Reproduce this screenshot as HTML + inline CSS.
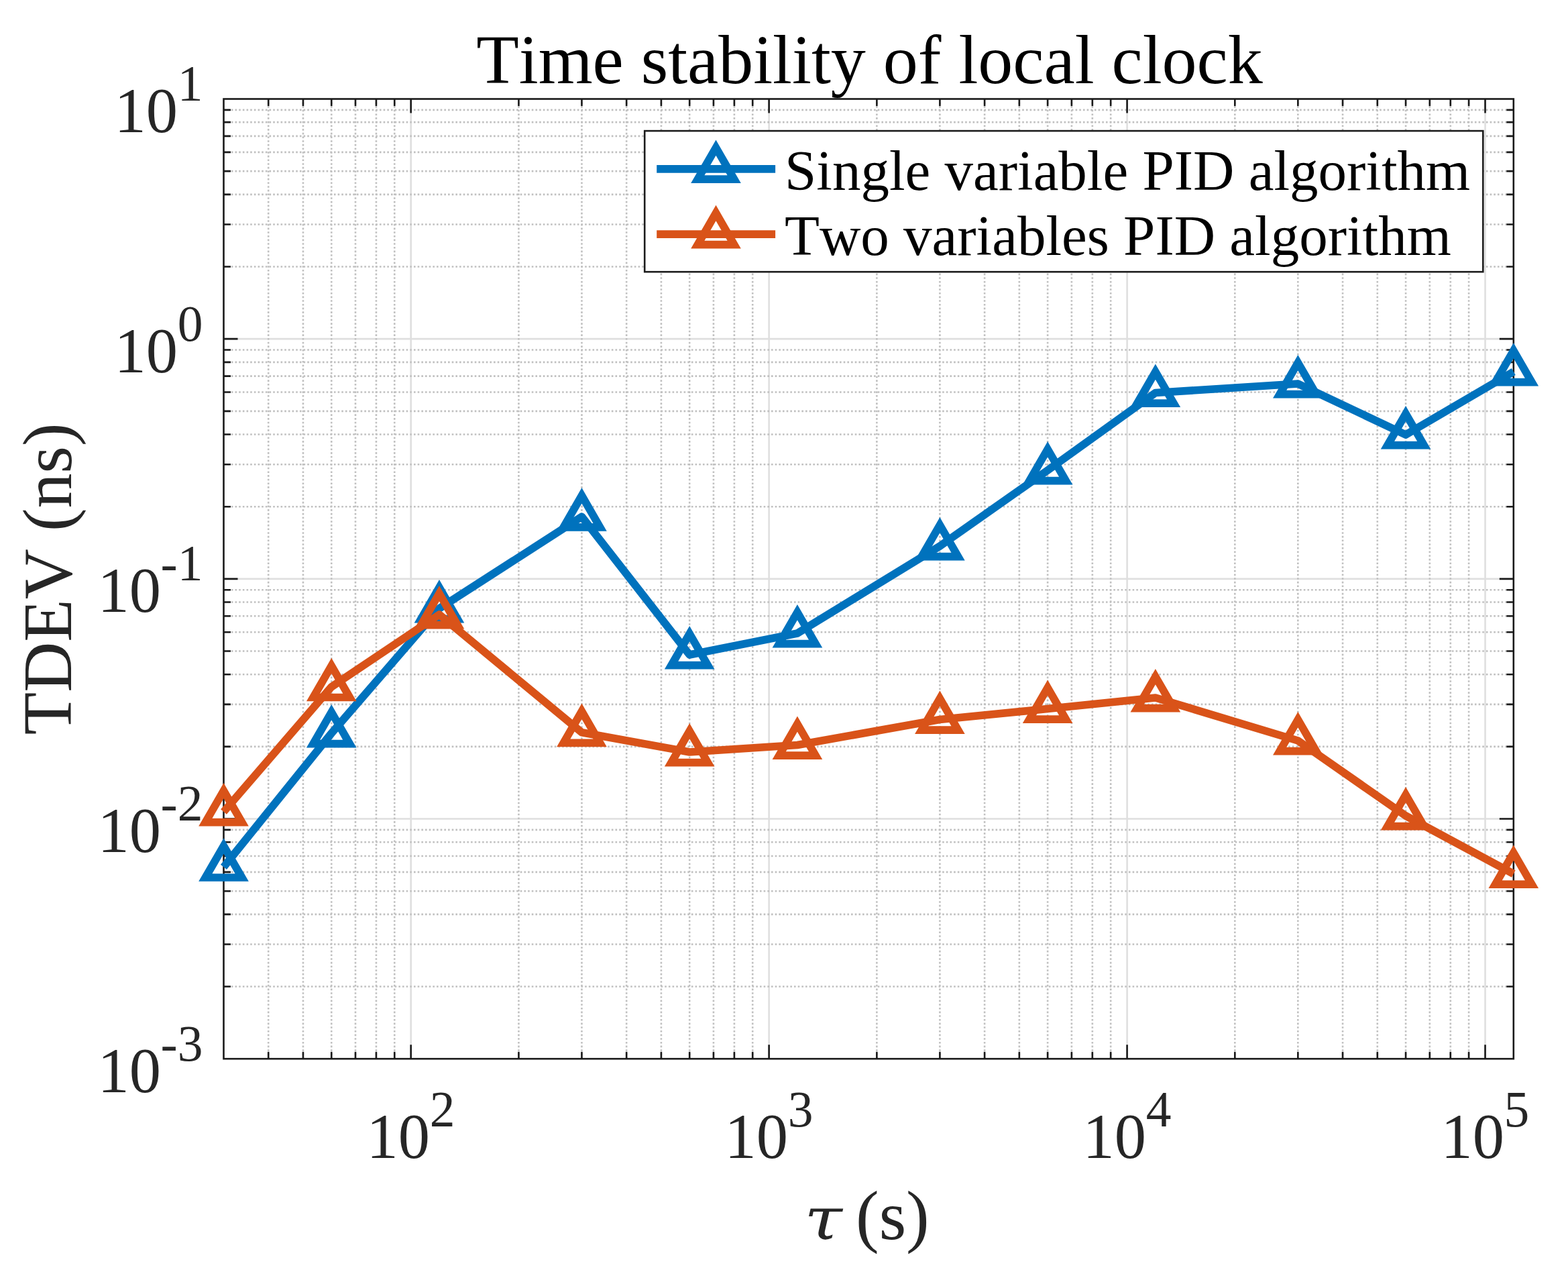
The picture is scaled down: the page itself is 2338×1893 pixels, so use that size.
<!DOCTYPE html>
<html lang="en"><head><meta charset="utf-8"><title>Time stability of local clock</title>
<style>html,body{margin:0;padding:0;background:#fff}body{width:2338px;height:1893px;overflow:hidden}svg{display:block}text{font-family:"Liberation Serif","DejaVu Serif",serif;font-kerning:none}</style></head><body>
<svg width="2338" height="1893" viewBox="0 0 2338 1893">
<rect x="0" y="0" width="2338" height="1893" fill="#fff"/>
<g fill="none" stroke="#dfdfdf" stroke-width="2.6">
<path d="M612.69 147.5V1578.2M1146.63 147.5V1578.2M1680.58 147.5V1578.2M2214.52 147.5V1578.2M333.5 1220.53H2256.8M333.5 862.85H2256.8M333.5 505.17H2256.8"/>
</g>
<g fill="none" stroke="#c0c0c0" stroke-width="2.6" stroke-dasharray="2.6 3.07">
<path d="M400.21 1578.2V147.5M451.95 1578.2V147.5M494.23 1578.2V147.5M529.98 1578.2V147.5M560.94 1578.2V147.5M588.26 1578.2V147.5M773.42 1578.2V147.5M867.44 1578.2V147.5M934.15 1578.2V147.5M985.9 1578.2V147.5M1028.18 1578.2V147.5M1063.92 1578.2V147.5M1094.89 1578.2V147.5M1122.2 1578.2V147.5M1307.37 1578.2V147.5M1401.39 1578.2V147.5M1468.1 1578.2V147.5M1519.84 1578.2V147.5M1562.12 1578.2V147.5M1597.87 1578.2V147.5M1628.83 1578.2V147.5M1656.15 1578.2V147.5M1841.31 1578.2V147.5M1935.33 1578.2V147.5M2002.04 1578.2V147.5M2053.79 1578.2V147.5M2096.07 1578.2V147.5M2131.81 1578.2V147.5M2162.78 1578.2V147.5M2190.09 1578.2V147.5"/>
<path d="M333.5 1470.53H2256.8M333.5 1407.55H2256.8M333.5 1362.86H2256.8M333.5 1328.2H2256.8M333.5 1299.87H2256.8M333.5 1275.93H2256.8M333.5 1255.19H2256.8M333.5 1236.89H2256.8M333.5 1112.85H2256.8M333.5 1049.87H2256.8M333.5 1005.18H2256.8M333.5 970.52H2256.8M333.5 942.2H2256.8M333.5 918.25H2256.8M333.5 897.51H2256.8M333.5 879.22H2256.8M333.5 755.18H2256.8M333.5 692.2H2256.8M333.5 647.51H2256.8M333.5 612.85H2256.8M333.5 584.52H2256.8M333.5 560.58H2256.8M333.5 539.84H2256.8M333.5 521.54H2256.8M333.5 397.5H2256.8M333.5 334.52H2256.8M333.5 289.83H2256.8M333.5 255.17H2256.8M333.5 226.85H2256.8M333.5 202.9H2256.8M333.5 182.16H2256.8M333.5 163.87H2256.8"/>
</g>
<g fill="none" stroke="#1a1a1a" stroke-width="2.6">
<rect x="333.5" y="147.5" width="1923.3" height="1430.7"/>
<path d="M400.21 1578.2v-10.5M400.21 147.5v10.5M451.95 1578.2v-10.5M451.95 147.5v10.5M494.23 1578.2v-10.5M494.23 147.5v10.5M529.98 1578.2v-10.5M529.98 147.5v10.5M560.94 1578.2v-10.5M560.94 147.5v10.5M588.26 1578.2v-10.5M588.26 147.5v10.5M773.42 1578.2v-10.5M773.42 147.5v10.5M867.44 1578.2v-10.5M867.44 147.5v10.5M934.15 1578.2v-10.5M934.15 147.5v10.5M985.9 1578.2v-10.5M985.9 147.5v10.5M1028.18 1578.2v-10.5M1028.18 147.5v10.5M1063.92 1578.2v-10.5M1063.92 147.5v10.5M1094.89 1578.2v-10.5M1094.89 147.5v10.5M1122.2 1578.2v-10.5M1122.2 147.5v10.5M1307.37 1578.2v-10.5M1307.37 147.5v10.5M1401.39 1578.2v-10.5M1401.39 147.5v10.5M1468.1 1578.2v-10.5M1468.1 147.5v10.5M1519.84 1578.2v-10.5M1519.84 147.5v10.5M1562.12 1578.2v-10.5M1562.12 147.5v10.5M1597.87 1578.2v-10.5M1597.87 147.5v10.5M1628.83 1578.2v-10.5M1628.83 147.5v10.5M1656.15 1578.2v-10.5M1656.15 147.5v10.5M1841.31 1578.2v-10.5M1841.31 147.5v10.5M1935.33 1578.2v-10.5M1935.33 147.5v10.5M2002.04 1578.2v-10.5M2002.04 147.5v10.5M2053.79 1578.2v-10.5M2053.79 147.5v10.5M2096.07 1578.2v-10.5M2096.07 147.5v10.5M2131.81 1578.2v-10.5M2131.81 147.5v10.5M2162.78 1578.2v-10.5M2162.78 147.5v10.5M2190.09 1578.2v-10.5M2190.09 147.5v10.5M612.69 1578.2v-21M612.69 147.5v21M1146.63 1578.2v-21M1146.63 147.5v21M1680.58 1578.2v-21M1680.58 147.5v21M2214.52 1578.2v-21M2214.52 147.5v21M333.5 1470.53h10.5M2256.8 1470.53h-10.5M333.5 1407.55h10.5M2256.8 1407.55h-10.5M333.5 1362.86h10.5M2256.8 1362.86h-10.5M333.5 1328.2h10.5M2256.8 1328.2h-10.5M333.5 1299.87h10.5M2256.8 1299.87h-10.5M333.5 1275.93h10.5M2256.8 1275.93h-10.5M333.5 1255.19h10.5M2256.8 1255.19h-10.5M333.5 1236.89h10.5M2256.8 1236.89h-10.5M333.5 1112.85h10.5M2256.8 1112.85h-10.5M333.5 1049.87h10.5M2256.8 1049.87h-10.5M333.5 1005.18h10.5M2256.8 1005.18h-10.5M333.5 970.52h10.5M2256.8 970.52h-10.5M333.5 942.2h10.5M2256.8 942.2h-10.5M333.5 918.25h10.5M2256.8 918.25h-10.5M333.5 897.51h10.5M2256.8 897.51h-10.5M333.5 879.22h10.5M2256.8 879.22h-10.5M333.5 755.18h10.5M2256.8 755.18h-10.5M333.5 692.2h10.5M2256.8 692.2h-10.5M333.5 647.51h10.5M2256.8 647.51h-10.5M333.5 612.85h10.5M2256.8 612.85h-10.5M333.5 584.52h10.5M2256.8 584.52h-10.5M333.5 560.58h10.5M2256.8 560.58h-10.5M333.5 539.84h10.5M2256.8 539.84h-10.5M333.5 521.54h10.5M2256.8 521.54h-10.5M333.5 397.5h10.5M2256.8 397.5h-10.5M333.5 334.52h10.5M2256.8 334.52h-10.5M333.5 289.83h10.5M2256.8 289.83h-10.5M333.5 255.17h10.5M2256.8 255.17h-10.5M333.5 226.85h10.5M2256.8 226.85h-10.5M333.5 202.9h10.5M2256.8 202.9h-10.5M333.5 182.16h10.5M2256.8 182.16h-10.5M333.5 163.87h10.5M2256.8 163.87h-10.5M333.5 1220.53h21M2256.8 1220.53h-21M333.5 862.85h21M2256.8 862.85h-21M333.5 505.17h21M2256.8 505.17h-21"/>
</g>
<g fill="none" stroke="#0072bd">
<polyline stroke-width="11.7" stroke-linejoin="round" stroke-linecap="butt" points="333.5,1292.3 494.23,1093 654.97,907 867.44,770.2 1028.18,976 1188.91,944 1401.39,814 1562.12,701 1722.86,585.5 1935.33,572 2096.07,648 2256.8,554"/>
<path stroke-width="11.7" stroke-linejoin="miter" stroke-miterlimit="10" d="M333.5 1260.9L360.69 1308L306.31 1308ZM494.23 1061.6L521.43 1108.7L467.04 1108.7ZM654.97 875.6L682.16 922.7L627.77 922.7ZM867.44 738.8L894.64 785.9L840.25 785.9ZM1028.18 944.6L1055.37 991.7L1000.98 991.7ZM1188.91 912.6L1216.1 959.7L1161.72 959.7ZM1401.39 782.6L1428.58 829.7L1374.2 829.7ZM1562.12 669.6L1589.32 716.7L1534.93 716.7ZM1722.86 554.1L1750.05 601.2L1695.66 601.2ZM1935.33 540.6L1962.53 587.7L1908.14 587.7ZM2096.07 616.6L2123.26 663.7L2068.87 663.7ZM2256.8 522.6L2283.99 569.7L2229.61 569.7Z"/>
</g>
<g fill="none" stroke="#d95319">
<polyline stroke-width="11.7" stroke-linejoin="round" stroke-linecap="butt" points="333.5,1210 494.23,1023.8 654.97,916 867.44,1091.7 1028.18,1121 1188.91,1110.5 1401.39,1072.5 1562.12,1056.5 1722.86,1040 1935.33,1104 2096.07,1216 2256.8,1302.5"/>
<path stroke-width="11.7" stroke-linejoin="miter" stroke-miterlimit="10" d="M333.5 1178.6L360.69 1225.7L306.31 1225.7ZM494.23 992.4L521.43 1039.5L467.04 1039.5ZM654.97 884.6L682.16 931.7L627.77 931.7ZM867.44 1060.3L894.64 1107.4L840.25 1107.4ZM1028.18 1089.6L1055.37 1136.7L1000.98 1136.7ZM1188.91 1079.1L1216.1 1126.2L1161.72 1126.2ZM1401.39 1041.1L1428.58 1088.2L1374.2 1088.2ZM1562.12 1025.1L1589.32 1072.2L1534.93 1072.2ZM1722.86 1008.6L1750.05 1055.7L1695.66 1055.7ZM1935.33 1072.6L1962.53 1119.7L1908.14 1119.7ZM2096.07 1184.6L2123.26 1231.7L2068.87 1231.7ZM2256.8 1271.1L2283.99 1318.2L2229.61 1318.2Z"/>
</g>
<text x="170.55" y="196.9" font-size="94.5" fill="#262626">10<tspan dx="-0.3" dy="-47" font-size="75.5">1</tspan></text>
<text x="170.55" y="554.57" font-size="94.5" fill="#262626">10<tspan dx="-0.3" dy="-47" font-size="75.5">0</tspan></text>
<text x="145.41" y="912.25" font-size="94.5" fill="#262626">10<tspan dx="-0.3" dy="-47" font-size="75.5">-1</tspan></text>
<text x="145.41" y="1269.93" font-size="94.5" fill="#262626">10<tspan dx="-0.3" dy="-47" font-size="75.5">-2</tspan></text>
<text x="145.41" y="1627.6" font-size="94.5" fill="#262626">10<tspan dx="-0.3" dy="-47" font-size="75.5">-3</tspan></text>
<text x="546.56" y="1726" font-size="94.5" fill="#262626">10<tspan dx="-0.3" dy="-47" font-size="75.5">2</tspan></text>
<text x="1080.51" y="1726" font-size="94.5" fill="#262626">10<tspan dx="-0.3" dy="-47" font-size="75.5">3</tspan></text>
<text x="1614.45" y="1726" font-size="94.5" fill="#262626">10<tspan dx="-0.3" dy="-47" font-size="75.5">4</tspan></text>
<text x="2148.4" y="1726" font-size="94.5" fill="#262626">10<tspan dx="-0.3" dy="-47" font-size="75.5">5</tspan></text>
<text x="1296.5" y="123.8" font-size="104" text-anchor="middle" fill="#000">Time stability of local clock</text>
<text transform="translate(106.3 862.8) rotate(-90)" font-size="104" text-anchor="middle" fill="#262626">TDEV (ns)</text>
<text y="1847" font-size="104" fill="#262626"><tspan x="1199.2" font-size="88" font-style="italic" style="font-family:'DejaVu Serif',serif" textLength="56.67" lengthAdjust="spacingAndGlyphs">τ</tspan><tspan x="1250"> (s)</tspan></text>
<rect x="961.2" y="195.1" width="1250.1" height="210.1" fill="#fff" stroke="#1c1c1c" stroke-width="2.6"/>
<g fill="none" stroke="#0072bd"><path stroke-width="11.7" d="M979.2 251.8H1156.1"/>
<path stroke-width="11.7" stroke-linejoin="miter" stroke-miterlimit="10" d="M1067.5 220.1L1094.69 267.2L1040.31 267.2Z"/></g>
<text x="1170" y="282.6" font-size="85" fill="#000">Single variable PID algorithm</text>
<g fill="none" stroke="#d95319"><path stroke-width="11.7" d="M979.2 349.2H1156.1"/>
<path stroke-width="11.7" stroke-linejoin="miter" stroke-miterlimit="10" d="M1067.5 317.5L1094.69 364.6L1040.31 364.6Z"/></g>
<text x="1170" y="379.6" font-size="85" fill="#000">Two variables PID algorithm</text>
</svg></body></html>
